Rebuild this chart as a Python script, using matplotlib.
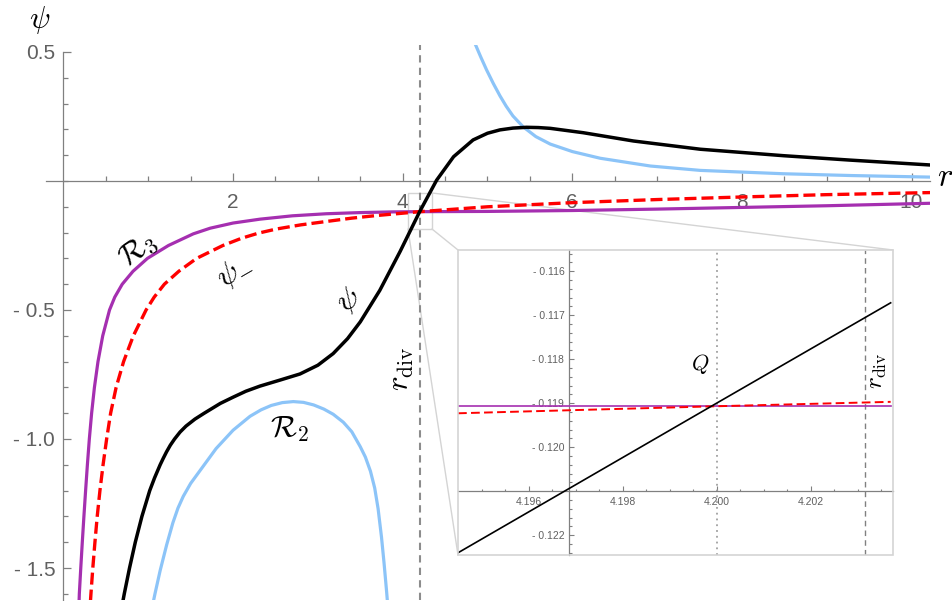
import numpy as np
import matplotlib
matplotlib.use("Agg")
import matplotlib.pyplot as plt
from matplotlib.patches import Rectangle, ConnectionPatch

plt.rcParams['mathtext.fontset'] = 'cm'
plt.rcParams['font.family'] = ['Liberation Sans', 'DejaVu Sans']

# psi (black)
psi_r = [0.700, 0.717, 0.779, 0.847, 0.925, 1.017, 1.075, 1.14, 1.175, 1.215, 1.26,
         1.31, 1.375, 1.445, 1.55, 1.66, 1.85, 2.0, 2.15, 2.317, 2.55, 2.789, 3.0,
         3.18, 3.35, 3.5, 3.73, 3.97, 4.2, 4.4, 4.6, 4.83, 5.0, 5.147, 5.3, 5.46,
         5.6, 5.74, 6.13, 6.72, 7.51, 8.49, 9.27, 10.22]
psi_y = [-1.63, -1.6, -1.5, -1.4, -1.3, -1.2, -1.15, -1.1, -1.076, -1.05, -1.024,
         -1.0, -0.973, -0.95, -0.923, -0.9, -0.862, -0.838, -0.815, -0.795, -0.772,
         -0.748, -0.714, -0.669, -0.611, -0.546, -0.424, -0.273, -0.119, 0.003,
         0.094, 0.159, 0.185, 0.198, 0.205, 0.208, 0.207, 0.204, 0.187, 0.155,
         0.123, 0.098, 0.081, 0.062]

# psi_minus (red dashed)
psim_r = [0.318, 0.324, 0.346, 0.371, 0.398, 0.430, 0.467, 0.509, 0.556, 0.621,
          0.709, 0.824, 0.974, 1.07, 1.19, 1.36, 1.57, 1.88, 2.1, 2.3, 2.514, 2.8,
          3.1, 3.4, 3.69, 4.2, 5.0, 6.0, 7.0, 8.0, 9.0, 10.22]
psim_y = [-1.63, -1.6, -1.5, -1.4, -1.3, -1.2, -1.1, -1.0, -0.9, -0.8, -0.7, -0.6,
          -0.5, -0.45, -0.4, -0.35, -0.3, -0.25, -0.222, -0.202, -0.186, -0.170,
          -0.157, -0.144, -0.134, -0.119, -0.100, -0.084, -0.072, -0.062, -0.053,
          -0.045]

# R3 (purple)
r3_r = [0.184, 0.187, 0.204, 0.222, 0.241, 0.261, 0.282, 0.305, 0.332, 0.365, 0.407,
        0.463, 0.543, 0.605, 0.693, 0.82, 0.99, 1.238, 1.53, 1.73, 2.0, 2.317, 2.7,
        3.1, 3.5, 3.89, 4.2, 5.0, 6.0, 7.0, 8.0, 9.0, 10.22]
r3_y = [-1.63, -1.6, -1.5, -1.4, -1.3, -1.2, -1.1, -1.0, -0.9, -0.8, -0.7, -0.6,
        -0.5, -0.45, -0.4, -0.35, -0.3, -0.25, -0.205, -0.183, -0.163, -0.148,
        -0.135, -0.127, -0.1225, -0.1198, -0.119, -0.118, -0.1145, -0.109, -0.1025,
        -0.096, -0.0864]

# R2 (light blue), lower arch and upper branch
r2a_r = [1.06, 1.079, 1.14, 1.217, 1.29, 1.35, 1.413, 1.5, 1.6, 1.8, 2.0, 2.2, 2.33,
         2.45, 2.58, 2.71, 2.83, 2.95, 3.07, 3.18, 3.3, 3.4, 3.5, 3.56, 3.62, 3.67,
         3.71, 3.75, 3.78, 3.81, 3.82]
r2a_y = [-1.63, -1.6, -1.51, -1.41, -1.325, -1.268, -1.222, -1.172, -1.127, -1.037,
         -0.966, -0.912, -0.887, -0.87, -0.859, -0.855, -0.858, -0.868, -0.884,
         -0.904, -0.935, -0.972, -1.03, -1.07, -1.125, -1.19, -1.27, -1.38, -1.48,
         -1.59, -1.63]
r2b_r = [4.86, 4.92, 4.99, 5.07, 5.147, 5.22, 5.3, 5.42, 5.57, 5.74, 6.0, 6.33, 6.92,
         7.51, 8.49, 9.3, 10.22]
r2b_y = [0.527, 0.481, 0.430, 0.377, 0.330, 0.290, 0.252, 0.210, 0.172, 0.143, 0.114,
         0.088, 0.058, 0.041, 0.028, 0.021, 0.015]

r_div = 4.2031
r_q = 4.200

# zoomed region around Q
zoom_r = [4.1945, 4.2000, 4.2037]
zoom_psi = [-0.12240, -0.11900, -0.11672]
zoom_psim = [-0.11923, -0.11907, -0.11897]
zoom_r3 = [-0.11907, -0.11907, -0.11907]

x_ticks = [2, 4, 6, 8, 10]
x_ticklabels = ['2', '4', '6', '8', '10']
y_ticks = [-1.5, -1.0, -0.5, 0.5]
y_ticklabels = ['- 1.5', '- 1.0', '- 0.5', '0.5']
zx_ticks = [4.196, 4.198, 4.200, 4.202]
zx_ticklabels = ['4.196', '4.198', '4.200', '4.202']
zy_ticks = [-0.122, -0.120, -0.119, -0.118, -0.117, -0.116]
zy_ticklabels = ['- 0.122', '- 0.120', '- 0.119', '- 0.118', '- 0.117', '- 0.116']

purple = '#a52fb0'
lblue = '#8cc4f8'
axcol = '#808080'
txtcol = '#606060'
boxcol = '#d4d4d4'

W, H = 952, 601
fig = plt.figure(figsize=(W / 100, H / 100), dpi=100)
ax = fig.add_axes([46 / W, 1 / H, 884 / W, 555 / H])
ax.set_xlim(-0.206, 10.218)
ax.set_ylim(-1.624, 0.527)

ax.plot(r3_r, r3_y, color=purple, lw=2.3, zorder=3, solid_joinstyle='round')
ax.plot(psim_r, psim_y, color='red', lw=2.4, dashes=(3.6, 1.5), zorder=3)
ax.plot(r2a_r, r2a_y, color=lblue, lw=2.3, zorder=3, solid_joinstyle='round')
ax.plot(r2b_r, r2b_y, color=lblue, lw=2.3, zorder=3, solid_joinstyle='round')
ax.plot(psi_r, psi_y, color='black', lw=2.5, zorder=3, solid_joinstyle='round')
ax.axvline(r_div, color='#8c8c8c', lw=1.5, dashes=(3.5, 2.5), zorder=2)

for s in ['top', 'right']:
    ax.spines[s].set_visible(False)
ax.spines['left'].set_position(('data', 0))
ax.spines['bottom'].set_position(('data', 0))
ax.spines['left'].set_bounds(-1.624, 0.5)
for s in ['left', 'bottom']:
    ax.spines[s].set_color(axcol)
    ax.spines[s].set_linewidth(0.9)

ax.set_xticks(x_ticks)
ax.set_xticklabels(x_ticklabels)
ax.set_xticks(np.arange(0.5, 10.1, 0.5), minor=True)
ax.set_yticks(y_ticks)
ax.set_yticklabels(y_ticklabels)
ax.set_yticks(np.arange(-1.6, 0.45, 0.1), minor=True)
ax.tick_params(which='both', direction='in', color=axcol, width=0.9,
               labelcolor=txtcol, labelsize=15)
ax.tick_params(which='major', length=6)
ax.tick_params(which='minor', length=3.3)
ax.tick_params(axis='x', pad=9)
ax.tick_params(axis='y', pad=6)

fig.text(40 / W, 1 - 20 / H, r'$\psi$', fontsize=22, ha='center', va='center')
fig.text(945 / W, 1 - 178 / H, r'$r$', fontsize=24, ha='center', va='center')

ax.text(0.873, -0.267, r'$\mathcal{R}_3$', fontsize=22, rotation=35,
        ha='center', va='center')
ax.text(2.016, -0.353, r'$\psi_{-}$', fontsize=22, rotation=30,
        ha='center', va='center')
ax.text(3.355, -0.465, r'$\psi$', fontsize=22, rotation=27,
        ha='center', va='center')
ax.text(2.67, -0.961, r'$\mathcal{R}_2$', fontsize=22, ha='center', va='center')
ax.text(3.98, -0.728, r'$r_{\rm div}$', fontsize=22, rotation=90,
        ha='center', va='center')

# magnifier box around Q
ax.add_patch(Rectangle((4.062, -0.186), 0.283, 0.1395, fill=False, ec=boxcol,
                       lw=1, zorder=1))

ax_in = fig.add_axes([458 / W, (H - 555) / H, 435 / W, 305 / H])
ax_in.set_xlim(4.19450, 4.20375)
ax_in.set_ylim(-0.12245, -0.11552)
ax_in.plot(zoom_r, zoom_r3, color=purple, lw=1.2, zorder=3)
ax_in.plot(zoom_r, zoom_psim, color='red', lw=1.4, dashes=(4.5, 2.2), zorder=3)
ax_in.plot(zoom_r, zoom_psi, color='black', lw=1.2, zorder=3)
ax_in.axvline(r_q, color='#a0a0a0', lw=1.3, linestyle=(0, (1, 2.2)), zorder=2)
ax_in.axvline(4.20315, color='#808080', lw=1.0, dashes=(4, 3), zorder=2)

for s in ['top', 'right']:
    ax_in.spines[s].set_visible(False)
ax_in.spines['left'].set_position(('data', 4.19685))
ax_in.spines['bottom'].set_position(('data', -0.121))
for s in ['left', 'bottom']:
    ax_in.spines[s].set_color(axcol)
    ax_in.spines[s].set_linewidth(0.9)
ax_in.add_patch(Rectangle((0, 0), 1, 1, transform=ax_in.transAxes, fill=False,
                          ec=boxcol, lw=1.2, clip_on=False, zorder=5))

ax_in.set_xticks(zx_ticks)
ax_in.set_xticklabels(zx_ticklabels)
ax_in.set_xticks(np.arange(4.1950, 4.2036, 0.0005), minor=True)
ax_in.set_yticks(zy_ticks)
ax_in.set_yticklabels(zy_ticklabels)
ax_in.set_yticks(np.arange(-0.1224, -0.1155, 0.0002), minor=True)
ax_in.tick_params(which='both', direction='in', color=axcol, width=0.8,
                  labelcolor=txtcol, labelsize=7.5)
ax_in.tick_params(which='major', length=3.5)
ax_in.tick_params(which='minor', length=1.8)
ax_in.tick_params(axis='x', pad=4)
ax_in.tick_params(axis='y', pad=3)

ax_in.text(4.19964, -0.1181, r'$Q$', fontsize=16, ha='center', va='center')
ax_in.text(4.20342, -0.11826, r'$r_{\rm div}$', fontsize=18, rotation=90,
           ha='center', va='center')

# connector lines from the box to the zoomed panel
for xa, ya, xb, yb in [(4.345, -0.0465, 1, 1), (4.345, -0.186, 0, 1),
                       (4.062, -0.186, 0, 0)]:
    con = ConnectionPatch(xyA=(xa, ya), coordsA=ax.transData, xyB=(xb, yb),
                          coordsB=ax_in.transAxes, color=boxcol, lw=1, zorder=1)
    ax.add_artist(con)

fig.savefig('out.png', dpi=100)
